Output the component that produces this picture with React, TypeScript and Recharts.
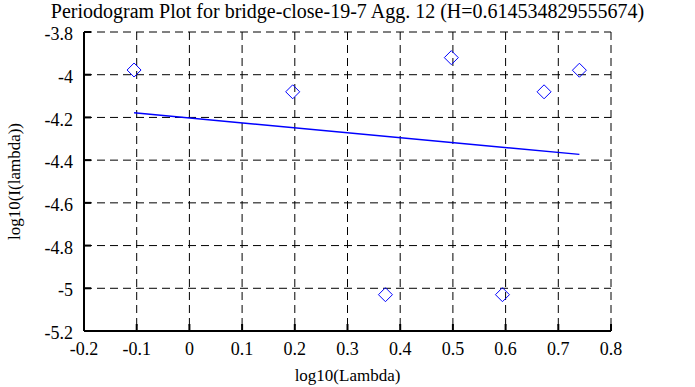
import { ScatterChart, Scatter, XAxis, YAxis, CartesianGrid } from 'recharts';

// log10(Lambda) of each periodogram point and log10(I(lambda))
const lambdaLog = [-0.105, 0.196, 0.372, 0.497, 0.594, 0.673, 0.74];
const intensityLog = [-3.978, -4.08, -5.03, -3.92, -5.03, -4.08, -3.979];

// least squares fit, end points
const fitLambda = [-0.105, 0.74];
const fitIntensity = [-4.178, -4.373];

const xTicks = [-0.2, -0.1, 0, 0.1, 0.2, 0.3, 0.4, 0.5, 0.6, 0.7, 0.8];
const yTicks = [-5.2, -5, -4.8, -4.6, -4.4, -4.2, -4, -3.8];

const title = 'Periodogram Plot for bridge-close-19-7 Agg. 12 (H=0.614534829555674)';

const points = lambdaLog.map((x, i) => ({ x, y: intensityLog[i] }));
const fit = fitLambda.map((x, i) => ({ x, y: fitIntensity[i] }));

const font = '"Liberation Serif", "Times New Roman", serif';
const border = { stroke: '#000', strokeWidth: 2 };

const XTick = (props: any) => {
  const { x, y, payload } = props;
  return (
    <text x={x} y={y} dy="0.71em" textAnchor="middle" fontSize={18} fontFamily={font} fill="#000">
      {payload.value}
    </text>
  );
};

const YTick = (props: any) => {
  const { x, y, payload } = props;
  return (
    <text x={x} y={y} dy="0.45em" textAnchor="end" fontSize={18} fontFamily={font} fill="#000">
      {payload.value}
    </text>
  );
};

const Diamond = (props: any) => {
  const { cx, cy } = props;
  const r = 7;
  return (
    <path
      d={`M${cx},${cy - r}L${cx + r},${cy}L${cx},${cy + r}L${cx - r},${cy}Z`}
      fill="none"
      stroke="#0000ff"
      strokeWidth={1}
    />
  );
};

const NoTick = () => <g />;

export default function App() {
  return (
    <div style={{ position: 'absolute', left: 0, top: 0, background: '#fff', fontFamily: font }}>
      <ScatterChart width={695} height={387} margin={{ top: 32, right: 84, bottom: 0, left: 0 }}>
        <CartesianGrid stroke="#000" strokeDasharray="8 5" />
        <XAxis
          xAxisId={0}
          type="number"
          dataKey="x"
          domain={[-0.2, 0.8]}
          ticks={xTicks}
          interval={0}
          height={56}
          tickSize={-7}
          tickMargin={18}
          axisLine={border}
          tickLine={border}
          tick={XTick}
          label={{ value: 'log10(Lambda)', position: 'insideBottom', offset: 6, fill: '#000', fontSize: 17, fontFamily: font }}
        />
        <XAxis
          xAxisId="top"
          orientation="top"
          type="number"
          domain={[-0.2, 0.8]}
          ticks={xTicks}
          interval={0}
          height={0}
          tickSize={-7}
          axisLine={border}
          tickLine={border}
          tick={NoTick}
        />
        <YAxis
          yAxisId={0}
          type="number"
          dataKey="y"
          domain={[-5.2, -3.8]}
          ticks={yTicks}
          interval={0}
          width={84}
          tickSize={-7}
          tickMargin={18}
          axisLine={border}
          tickLine={border}
          tick={YTick}
          label={{
            value: 'log10(I(lambda))',
            angle: -90,
            position: 'insideLeft',
            offset: 14,
            fill: '#000',
            fontSize: 17,
            fontFamily: font,
            style: { textAnchor: 'middle' },
          }}
        />
        <YAxis
          yAxisId="right"
          orientation="right"
          type="number"
          domain={[-5.2, -3.8]}
          ticks={yTicks}
          interval={0}
          width={0}
          tickSize={-7}
          axisLine={border}
          tickLine={border}
          tick={NoTick}
        />
        <Scatter data={points} shape={Diamond} isAnimationActive={false} />
        <Scatter
          data={fit}
          line={{ stroke: '#0000ff', strokeWidth: 1.5 }}
          shape={NoTick}
          isAnimationActive={false}
        />
        <text x={347.5} y={18} textAnchor="middle" fontSize={20} fontFamily={font} fill="#000">
          {title}
        </text>
      </ScatterChart>
    </div>
  );
}
